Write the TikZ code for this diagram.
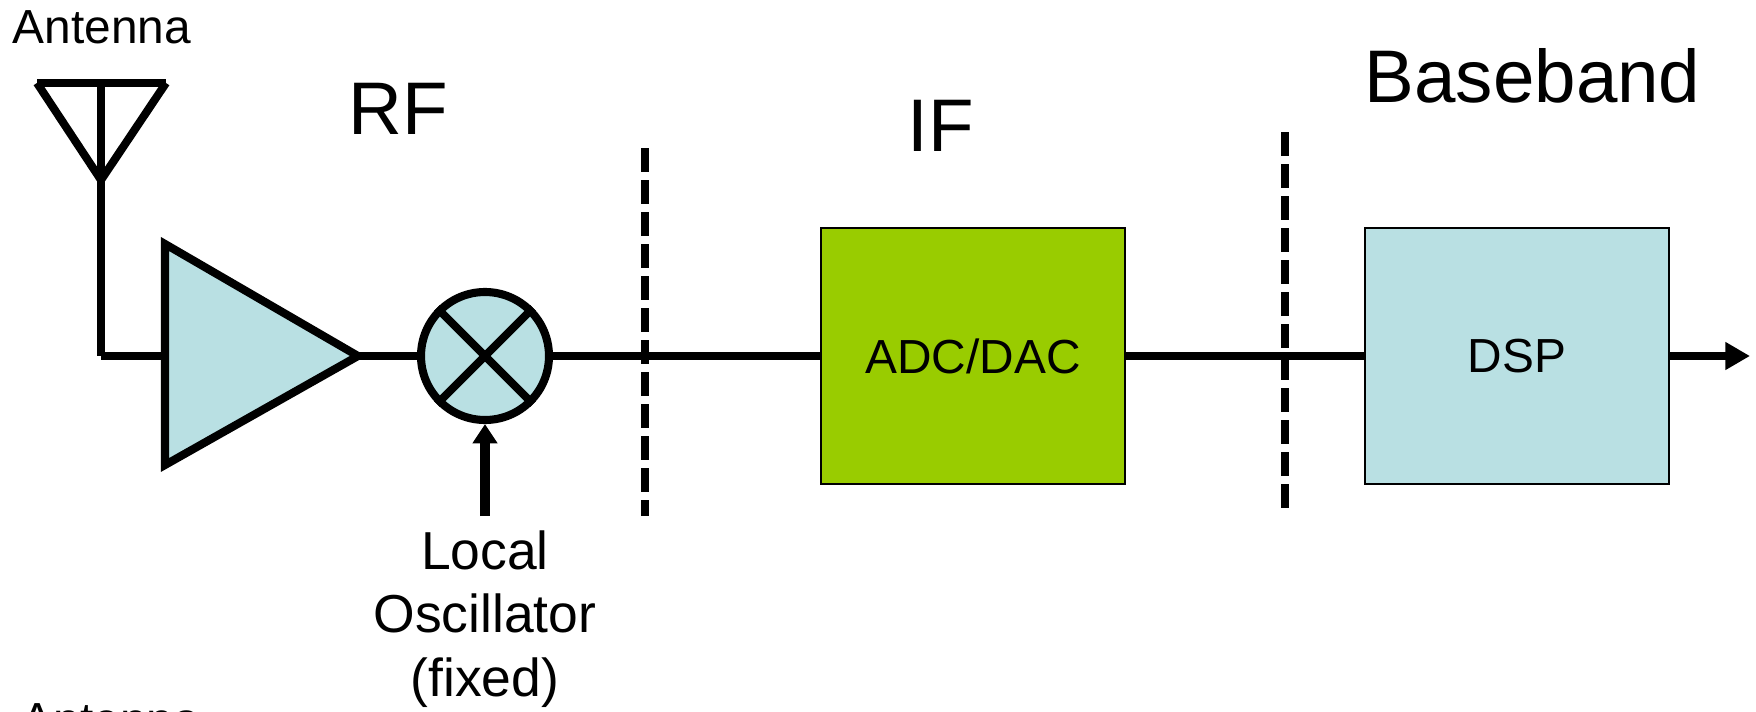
\documentclass[tikz,border=0pt]{standalone}
\usepackage{fontspec}
\setmainfont{Liberation Sans}
\usepackage{tikz}
\usetikzlibrary{arrows.meta}
\definecolor{paleblue}{HTML}{B9E0E3}
\definecolor{adcgreen}{HTML}{99CC00}
\tikzset{
  wire/.style={line width=2.3pt},
  divider/.style={line width=2.4pt, dash pattern=on 6.8pt off 2.3pt},
  block/.style={draw, line width=0.6pt, minimum width=304*0.01cm, minimum height=256*0.01cm, inner sep=0pt, font=\fontsize{13.6}{16}\selectfont},
  small/.style={inner sep=0pt, font=\fontsize{13.6}{16}\selectfont},
  big/.style={inner sep=0pt, font=\fontsize{21.2}{26}\selectfont},
  tip/.style={-{Triangle[length=7pt, width=7.5pt]}},
  lotip/.style={-{Triangle[length=5.5pt, width=6.8pt]}}
}
\begin{document}
\begin{tikzpicture}[x=0.01cm, y=-0.01cm]
        \useasboundingbox (0,0) rectangle (1756,712);
        % titles
        \node[small, anchor=base west] (anttop) at (12,44) {Antenna};
        \node[small, anchor=base west] (antbottom) at (21,736) {Antenna};
        \node[big, anchor=base west] (rf) at (348,134) {RF};
        \node[big, anchor=base west] (if) at (907,151) {IF};
        \node[big, anchor=base west] (baseband) at (1364,103) {Baseband};
        % antenna
        \coordinate (antl) at (37,83);
        \coordinate (antr) at (166,83);
        \coordinate (anttip) at (101,180);
        \coordinate (anttopmid) at (101,83);
        \coordinate (antfoot) at (101,356);
        \draw[wire] (antl) -- (antr);
        \draw[wire] (antl) -- (anttip) -- (antr);
        \draw[wire, line width=2.5pt] (anttopmid) -- (antfoot);
        % amplifier
        \coordinate (ampin) at (165,356);
        \coordinate (ampout) at (358,356);
        \draw[wire] (antfoot) -- (ampin);
        \draw[wire, fill=paleblue, miter limit=10] (165,244) -- (ampout) -- (165,465) -- cycle;
        % mixer
        \node[circle, draw, wire, fill=paleblue, minimum size=128*0.01cm, inner sep=0pt] (mixer) at (485,356) {};
        \draw[wire] (mixer.45) -- (mixer.225);
        \draw[wire] (mixer.135) -- (mixer.315);
        \draw[wire] (ampout) -- (mixer);
        % local oscillator
        \node[align=center, inner sep=0pt, anchor=north, font=\fontsize{15.2}{18}\selectfont] (lo) at (485,530) {Local\\Oscillator\\(fixed)};
        \coordinate (loin) at (485,516);
        \draw[wire, line width=2.6pt, lotip] (loin) -- (mixer);
        % blocks
        \node[block, fill=adcgreen] (adc) at (973,356) {ADC/DAC};
        \node[block, fill=paleblue] (dsp) at (1517,356) {DSP};
        \coordinate (out) at (1750,356);
        \draw[wire] (mixer) -- (adc);
        \draw[wire] (adc) -- (dsp);
        \draw[wire, tip] (dsp) -- (out);
        % dividers
        \coordinate (diva) at (645,148);
        \coordinate (divb) at (645,516);
        \coordinate (divc) at (1285,132);
        \coordinate (divd) at (1285,508);
        \draw[divider] (diva) -- (divb);
        \draw[divider] (divc) -- (divd);
\end{tikzpicture}
\end{document}
